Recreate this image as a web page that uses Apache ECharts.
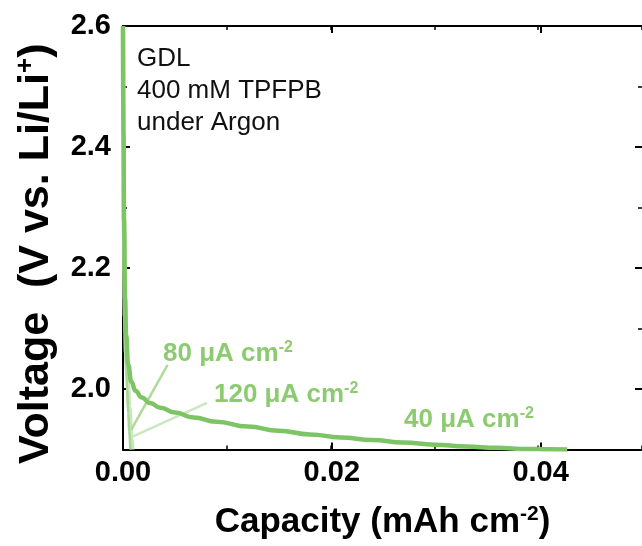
<!DOCTYPE html>
<html><head><meta charset="utf-8">
<script src="https://cdn.jsdelivr.net/npm/echarts@6/dist/echarts.min.js"></script>
<style>html,body{margin:0;padding:0;background:#fff}#c{width:642px;height:546px}</style>
</head><body><div id="c"></div>
<script>
// ---- data ----
const xTickLabels = ['0.00', '0.02', '0.04'];
const yTickLabels = ['2.0', '2.2', '2.4', '2.6'];

const cap40  = [0, 0.00005, 0.0001, 0.0002, 0.0003, 0.0005, 0.0008, 0.0012, 0.0018, 0.0026, 0.0036, 0.0050, 0.0068, 0.0090, 0.0120, 0.0150, 0.0180, 0.0210, 0.0240, 0.0270, 0.0300, 0.0330, 0.0360, 0.0390, 0.0410, 0.0428];
const volt40 = [2.60, 2.42, 2.28, 2.15, 2.09, 2.04, 2.012, 1.997, 1.986, 1.977, 1.969, 1.961, 1.953, 1.946, 1.938, 1.931, 1.925, 1.920, 1.9155, 1.9115, 1.908, 1.905, 1.9027, 1.901, 1.9004, 1.900];

const cap80  = [0, 0.00004, 0.0001, 0.0002, 0.0003, 0.0004, 0.0005, 0.0006, 0.0007];
const volt80 = [2.60, 2.40, 2.22, 2.10, 2.04, 2.00, 1.96, 1.93, 1.90];

const cap120  = [0, 0.00005, 0.0001, 0.0002, 0.0003, 0.0004, 0.0006, 0.0008, 0.0009];
const volt120 = [2.60, 2.40, 2.25, 2.12, 2.06, 2.03, 1.97, 1.92, 1.90];

const ptr80Cap  = [0.0043, 0.00077];
const ptr80Volt = [2.040, 1.932];
const ptr120Cap  = [0.0081, 0.00086];
const ptr120Volt = [1.977, 1.921];

const noteLines = ['GDL', '400 mM TPFPB', 'under Argon'];

// ---- helpers ----
const zip = (a, b) => a.map((v, i) => [v, b[i]]);
const FONT = '"Liberation Sans", Arial, sans-serif';
const black = '#000';
const lineStyle = { color: black, width: 2 };

function minorX(pos) {
  return { gridIndex: 0, type: 'value', position: pos, min: 0, max: 0.05, interval: 0.01,
    axisLine: { show: true, onZero: false, lineStyle }, axisTick: { show: true, inside: true, length: 4, lineStyle: { color: black, width: 1.5 } },
    axisLabel: { show: false }, splitLine: { show: false } };
}
function majorX(pos, labels) {
  return { gridIndex: 1, type: 'value', position: pos, min: 0, max: 0.04, interval: 0.02,
    axisLine: { show: false, onZero: false }, axisTick: { show: true, inside: true, length: 7, lineStyle: { color: black, width: 2 } },
    axisLabel: labels ? { show: true, margin: 9, color: black, fontFamily: FONT, fontWeight: 'bold', fontSize: 29,
      formatter: v => xTickLabels[Math.round(v / 0.02)] } : { show: false },
    splitLine: { show: false } };
}
function minorY(pos, showLine) {
  return { gridIndex: 0, type: 'value', position: pos, min: 1.9, max: 2.6, interval: 0.1,
    axisLine: { show: showLine, onZero: false, lineStyle }, axisTick: { show: true, inside: true, length: 4, lineStyle: { color: black, width: 1.5 } },
    axisLabel: { show: false }, splitLine: { show: false } };
}
function majorY(pos, labels) {
  return { gridIndex: 2, type: 'value', position: pos, min: 2.0, max: 2.6, interval: 0.2,
    axisLine: { show: false, onZero: false }, axisTick: { show: true, inside: true, length: 7, lineStyle: { color: black, width: 2 } },
    axisLabel: labels ? { show: true, margin: 12, color: black, fontFamily: FONT, fontWeight: 'bold', fontSize: 29,
      formatter: v => yTickLabels[Math.round((v - 2.0) / 0.2)] } : { show: false },
    splitLine: { show: false } };
}

const xb = minorX('bottom');
xb.name = '{a|Capacity (mAh cm}{s|-2}{a|)}';
xb.nameLocation = 'middle';
xb.nameGap = 54;
xb.nameTextStyle = { rich: {
  a: { fontFamily: FONT, fontWeight: 'bold', fontSize: 35, color: black, lineHeight: 38 },
  s: { fontFamily: FONT, fontWeight: 'bold', fontSize: 21, color: black, verticalAlign: 'top', lineHeight: 21 } } };

const yl = minorY('left', true);
yl.name = '{a|Voltage  (V vs. Li/Li}{s|+}{a|)}';
yl.nameLocation = 'middle';
yl.nameGap = 64;
yl.nameTextStyle = { padding: [0, 32, 0, 0], rich: {
  a: { fontFamily: FONT, fontWeight: 'bold', fontSize: 43, color: black, lineHeight: 46 },
  s: { fontFamily: FONT, fontWeight: 'bold', fontSize: 26, color: black, verticalAlign: 'top', lineHeight: 26 } } };

const labelGreen = '#8ccb70';
const richLabel = {
  a: { fontFamily: FONT, fontWeight: 'bold', fontSize: 26, fill: labelGreen, lineHeight: 28 },
  s: { fontFamily: FONT, fontWeight: 'bold', fontSize: 16, fill: labelGreen, verticalAlign: 'top', lineHeight: 16 }
};
function greenLabel(txt, x, y) {
  return { type: 'text', x: x, y: y, z: 100,
    style: { text: '{a|' + txt + ' μA cm}{s|-2}', rich: richLabel, fill: labelGreen, align: 'left', verticalAlign: 'middle' } };
}

const option = {
  animation: false,
  backgroundColor: '#fff',
  grid: [
    { left: 123, right: -3, top: 26, bottom: 96.5 },
    { left: 123, right: 101.4, top: 26, bottom: 96.5 },
    { left: 123, right: -3, top: 26, bottom: 157 }
  ],
  xAxis: [
    xb, minorX('top'),
    majorX('bottom', true), majorX('top', false),
    { gridIndex: 2, type: 'value', show: false, min: 0, max: 1 }
  ],
  yAxis: [
    yl, minorY('right', false),
    { gridIndex: 1, type: 'value', show: false, min: 0, max: 1 },
    majorY('left', true), majorY('right', false)
  ],
  series: [
    { name: '120 μA cm-2', type: 'line', xAxisIndex: 0, yAxisIndex: 0, showSymbol: false, smooth: true, smoothMonotone: 'x',
      lineStyle: { color: '#c9e6bb', width: 4.5 }, data: zip(cap120, volt120), z: 2 },
    { name: '80 μA cm-2', type: 'line', xAxisIndex: 0, yAxisIndex: 0, showSymbol: false, smooth: true, smoothMonotone: 'x',
      lineStyle: { color: '#a7d592', width: 2.5 }, data: zip(cap80, volt80), z: 3 },
    { name: '40 μA cm-2', type: 'line', xAxisIndex: 0, yAxisIndex: 0, showSymbol: false, smooth: true, smoothMonotone: 'x',
      lineStyle: { color: '#7dc465', width: 4.5 }, data: zip(cap40, volt40), z: 4 },
    { name: 'ptr80', type: 'line', xAxisIndex: 0, yAxisIndex: 0, showSymbol: false,
      lineStyle: { color: '#b0da9c', width: 2.5 }, data: zip(ptr80Cap, ptr80Volt), z: 3 },
    { name: 'ptr120', type: 'line', xAxisIndex: 0, yAxisIndex: 0, showSymbol: false,
      lineStyle: { color: '#cbe7bf', width: 2.5 }, data: zip(ptr120Cap, ptr120Volt), z: 3 }
  ],
  graphic: [
    { type: 'text', left: 137, top: 43, z: 100,
      style: { text: noteLines.join('\n'), fontFamily: FONT, fontSize: 26, lineHeight: 32, fill: '#111' } },
    greenLabel('80', 163, 354),
    greenLabel('120', 214, 395),
    greenLabel('40', 404, 420)
  ]
};

const chart = echarts.init(document.getElementById('c'), null, { renderer: 'canvas' });
chart.setOption(option);
</script>
</body></html>
